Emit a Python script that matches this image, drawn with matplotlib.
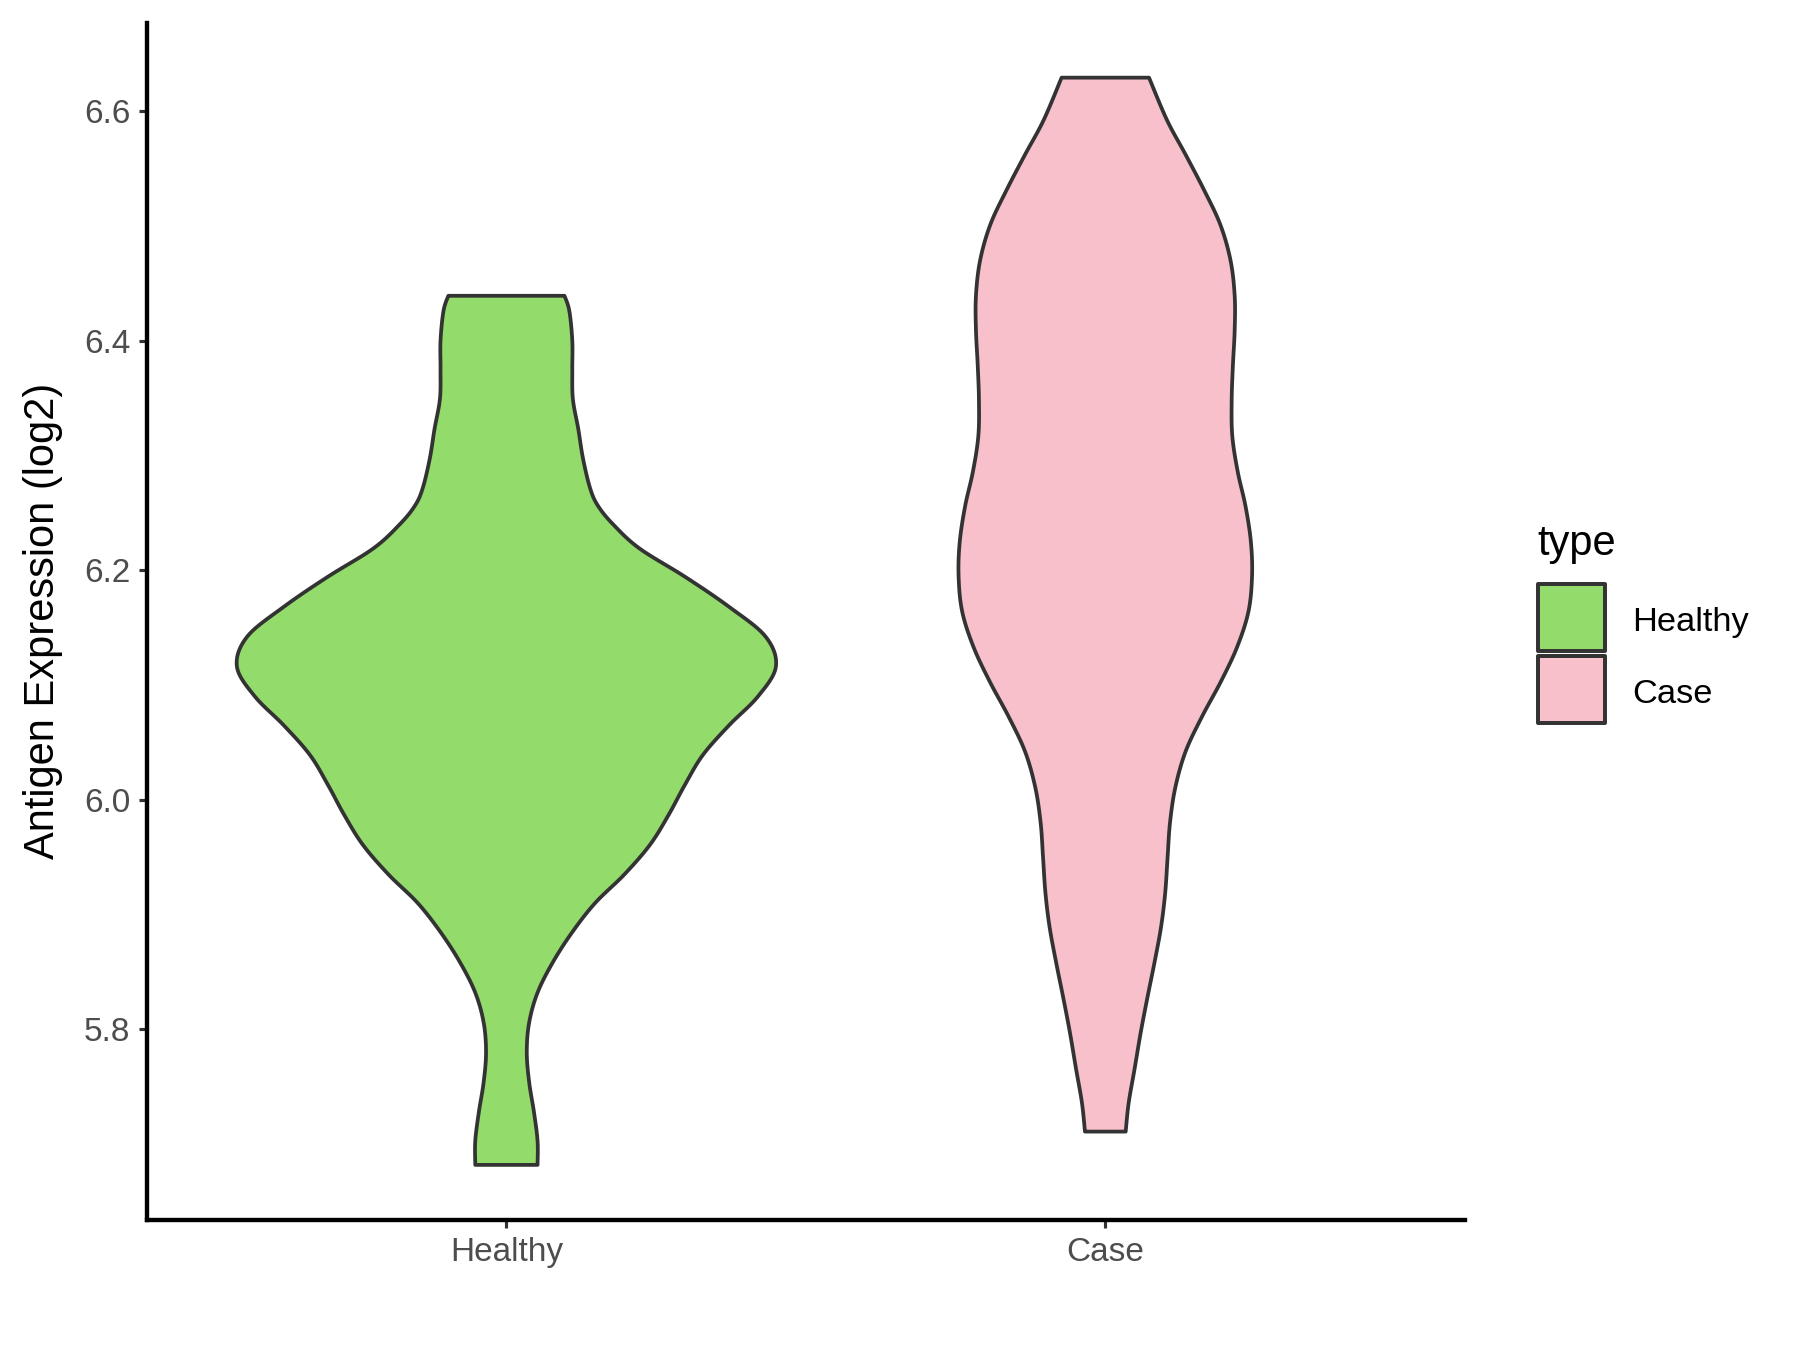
import numpy as np
import matplotlib.pyplot as plt
from matplotlib.patches import Rectangle

plt.rcParams['font.family'] = ['Liberation Sans', 'DejaVu Sans']

categories = ['Healthy', 'Case']
fill_colors = ['#93DB6A', '#F7C0CB']

# violin outline: expression level -> half width (x units)
healthy_y = [6.439, 6.426, 6.400, 6.374, 6.349, 6.323, 6.297, 6.271, 6.256, 6.240,
             6.219, 6.194, 6.168, 6.142, 6.116, 6.090, 6.065, 6.039, 6.013, 5.987,
             5.961, 5.935, 5.910, 5.884, 5.858, 5.832, 5.806, 5.780, 5.754, 5.728,
             5.703, 5.682]
healthy_hw = [0.097, 0.105, 0.110, 0.110, 0.111, 0.120, 0.128, 0.140, 0.153, 0.178,
              0.222, 0.299, 0.372, 0.433, 0.450, 0.420, 0.372, 0.328, 0.298, 0.271,
              0.240, 0.197, 0.148, 0.109, 0.077, 0.052, 0.038, 0.034, 0.038, 0.046,
              0.052, 0.052]

case_y = [6.629, 6.592, 6.562, 6.531, 6.501, 6.470, 6.439, 6.409, 6.378, 6.348,
          6.317, 6.286, 6.256, 6.225, 6.195, 6.164, 6.133, 6.103, 6.072, 6.042,
          6.011, 5.980, 5.950, 5.919, 5.889, 5.858, 5.827, 5.797, 5.766, 5.736,
          5.711]
case_hw = [0.073, 0.103, 0.134, 0.165, 0.192, 0.209, 0.216, 0.216, 0.213, 0.211,
           0.212, 0.221, 0.234, 0.243, 0.245, 0.239, 0.220, 0.193, 0.161, 0.134,
           0.117, 0.108, 0.104, 0.100, 0.093, 0.082, 0.070, 0.059, 0.049, 0.039,
           0.034]

y_ticks = [5.8, 6.0, 6.2, 6.4, 6.6]


def smooth_outline(ys, hw, steps=10):
    # catmull-rom through the read points so the outline has no corners
    pts = np.column_stack([ys, hw])
    pts = np.vstack([pts[0], pts, pts[-1]])
    out = []
    t = np.linspace(0, 1, steps, endpoint=False)[:, None]
    for k in range(1, len(pts) - 2):
        p0, p1, p2, p3 = pts[k - 1], pts[k], pts[k + 1], pts[k + 2]
        seg = 0.5 * ((2 * p1) + (-p0 + p2) * t + (2 * p0 - 5 * p1 + 4 * p2 - p3) * t ** 2
                     + (-p0 + 3 * p1 - 3 * p2 + p3) * t ** 3)
        out.append(seg)
    out.append(pts[-2][None, :])
    out = np.vstack(out)
    return out[:, 0], out[:, 1]


W, H = 1800, 1350
fig = plt.figure(figsize=(12, 9), dpi=150)
ax = fig.add_axes([0.0817, 0.0963, 0.732, 0.887])

profiles = [(healthy_y, healthy_hw), (case_y, case_hw)]
for i, (ys, hw) in enumerate(profiles):
    pos = i + 1
    sy, sw = smooth_outline(ys, hw)
    xs = np.concatenate([pos - sw, (pos + sw)[::-1]])
    yy = np.concatenate([sy, sy[::-1]])
    ax.fill(xs, yy, facecolor=fill_colors[i], edgecolor='#333333',
            linewidth=1.8, joinstyle='round')

ax.set_xlim(0.4, 2.6)
ax.set_ylim(5.634, 6.677)
ax.set_xticks([1, 2])
ax.set_xticklabels(categories)
ax.set_yticks(y_ticks)
ax.set_yticklabels([f'{v:.1f}' for v in y_ticks])
ax.set_ylabel('Antigen Expression (log2)', fontsize=20, labelpad=10)

for side in ['top', 'right']:
    ax.spines[side].set_visible(False)
for side in ['left', 'bottom']:
    ax.spines[side].set_linewidth(2.1)
    ax.spines[side].set_color('black')
ax.tick_params(axis='both', length=4, width=1.5, color='#333333',
               labelsize=16, labelcolor='#4D4D4D', pad=4)

# legend drawn by hand in figure pixels (from the top-left corner)
def fx(px):
    return px / W


def fy(py):
    return 1 - py / H


fig.text(fx(1537), fy(555), 'type', fontsize=20, color='black', va='baseline')
key_tops = [584, 656]
label_base = [631, 703]
for c, lab, top, base in zip(fill_colors, categories, key_tops, label_base):
    fig.add_artist(Rectangle((fx(1538), fy(top + 67)), fx(67), 67 / H,
                             transform=fig.transFigure, facecolor=c,
                             edgecolor='#333333', linewidth=1.9, joinstyle='round'))
    fig.text(fx(1632), fy(base), lab, fontsize=16.5, color='black', va='baseline')

fig.savefig('out.png', dpi=150, facecolor='white')
